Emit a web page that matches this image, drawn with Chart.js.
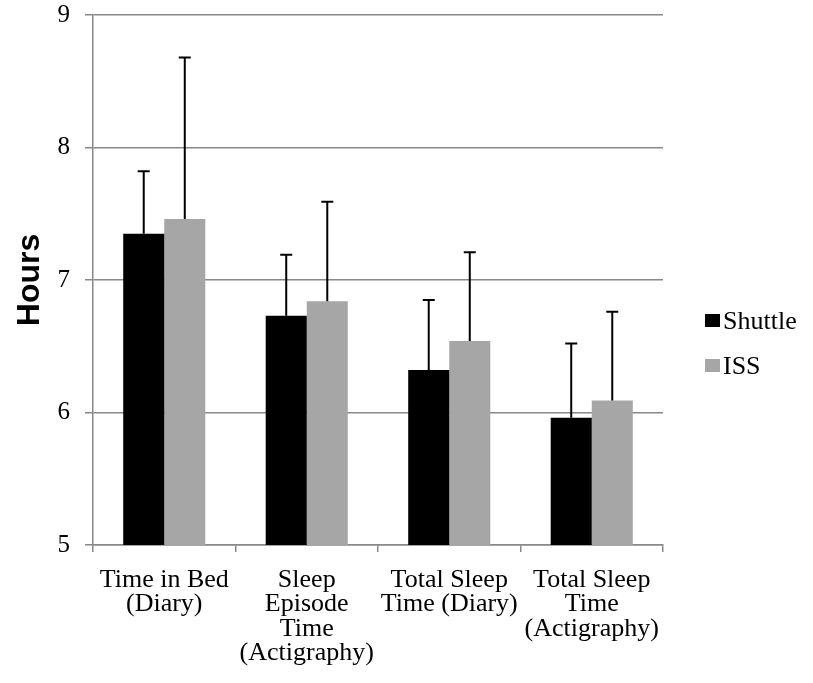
<!DOCTYPE html>
<html>
<head>
<meta charset="utf-8">
<script src="https://cdn.jsdelivr.net/npm/chart.js@4/dist/chart.umd.min.js"></script>
<style>
  body { margin: 0; background: #fff; }
  #chart { display: block; }
</style>
</head>
<body>
<canvas id="chart" width="813" height="683"></canvas>
<script>
const categories = [
    ["Time in Bed", "(Diary)"],
    ["Sleep", "Episode", "Time", "(Actigraphy)"],
    ["Total Sleep", "Time (Diary)"],
    ["Total Sleep", "Time", "(Actigraphy)"]
];
const shuttleHours = [7.35, 6.73, 6.32, 5.96];
const issHours = [7.46, 6.84, 6.54, 6.09];
// upper end of each error bar
const shuttleUpper = [7.82, 7.19, 6.85, 6.52];
const issUpper = [8.68, 7.59, 7.21, 6.76];

const serif = "'Liberation Serif', 'Times New Roman', serif";

// draws the upward error whiskers for each bar
const errorBars = {
    id: 'errorBars',
    afterDatasetsDraw(chart) {
        const ctx = chart.ctx;
        const y = chart.scales.y;
        chart.data.datasets.forEach((ds, i) => {
            const meta = chart.getDatasetMeta(i);
            meta.data.forEach((bar, j) => {
                const top = y.getPixelForValue(ds.upper[j]);
                ctx.save();
                ctx.strokeStyle = '#000';
                ctx.lineWidth = 2;
                ctx.beginPath();
                ctx.moveTo(bar.x, bar.y);
                ctx.lineTo(bar.x, top);
                ctx.moveTo(bar.x - 6, top);
                ctx.lineTo(bar.x + 6, top);
                ctx.stroke();
                ctx.restore();
            });
        });
    }
};

// legend to the right, box close to the text like the original
const sideLegend = {
    id: 'sideLegend',
    afterDraw(chart) {
        const ctx = chart.ctx;
        ctx.save();
        ctx.font = '26px ' + serif;
        ctx.textBaseline = 'middle';
        chart.data.datasets.forEach((ds, i) => {
            const cy = 321 + i * 45;
            ctx.fillStyle = ds.backgroundColor;
            ctx.fillRect(705, cy - 7, 15, 13);
            ctx.fillStyle = '#000';
            ctx.fillText(ds.label, 723, cy + 1);
        });
        ctx.restore();
    }
};

function noOverflow(scale) {
    scale.paddingTop = 0;
    scale.paddingBottom = 0;
    scale.paddingLeft = 0;
    scale.paddingRight = 0;
}

new Chart(document.getElementById('chart').getContext('2d'), {
    type: 'bar',
    data: {
        labels: categories,
        datasets: [
            { label: 'Shuttle', data: shuttleHours, upper: shuttleUpper, backgroundColor: '#000000' },
            { label: 'ISS', data: issHours, upper: issUpper, backgroundColor: '#a6a6a6' }
        ]
    },
    options: {
        responsive: false,
        animation: false,
        categoryPercentage: 0.576,
        barPercentage: 1,
        layout: { padding: { top: 15, right: 150, bottom: 0, left: 0 } },
        plugins: {
            tooltip: { enabled: false },
            legend: { display: false }
        },
        scales: {
            x: {
                afterFit(scale) { scale.height = 138; noOverflow(scale); },
                grid: { drawOnChartArea: false, color: '#888', lineWidth: 1.5, tickLength: 7 },
                border: { color: '#888', width: 1.5 },
                ticks: { color: '#000', padding: 16, autoSkip: false, maxRotation: 0, font: { family: serif, size: 26, lineHeight: 0.94 } }
            },
            y: {
                min: 5,
                max: 9,
                afterFit(scale) { scale.width = 93; noOverflow(scale); },
                ticks: { stepSize: 1, color: '#000', padding: 15, font: { family: serif, size: 25 } },
                grid: { color: '#888', lineWidth: 1.5, tickLength: 8 },
                border: { color: '#888', width: 1.5 },
                title: {
                    display: true,
                    text: 'Hours',
                    color: '#000',
                    padding: { top: 11, bottom: 8 },
                    font: { family: "'Liberation Sans', Arial, sans-serif", size: 32, weight: 'bold' }
                }
            }
        }
    },
    plugins: [errorBars, sideLegend]
});
</script>
</body>
</html>
